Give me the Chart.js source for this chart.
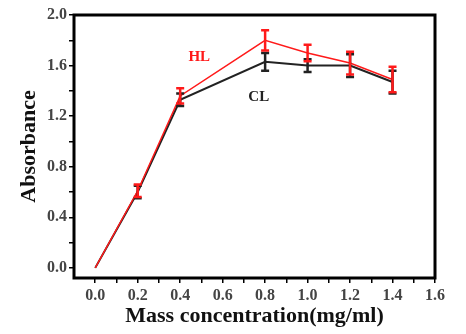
<!DOCTYPE html>
<html>
<head>
<meta charset="utf-8">
<script src="https://cdn.jsdelivr.net/npm/chart.js@4.4.1/dist/chart.umd.min.js"></script>
<style>
  html, body { margin: 0; padding: 0; background: #fff; }
  #wrap { width: 466px; height: 334px; position: relative; }
</style>
</head>
<body>
<div id="wrap"><canvas id="chart"></canvas></div>
<script>
// Data
const concentration = [0, 0.2, 0.4, 0.8, 1.0, 1.2, 1.4];
const clValues = [0, 0.60, 1.33, 1.63, 1.60, 1.60, 1.47];
const clErrors = [0, 0.05, 0.05, 0.07, 0.05, 0.09, 0.09];
const hlValues = [0, 0.61, 1.36, 1.80, 1.70, 1.62, 1.49];
const hlErrors = [0, 0.05, 0.06, 0.08, 0.065, 0.09, 0.10];

// Tick positions (labels only on every second one)
const xTicks = [0, 0.1, 0.2, 0.3, 0.4, 0.5, 0.6, 0.7, 0.8, 0.9, 1.0, 1.1, 1.2, 1.3, 1.4, 1.5, 1.6];
const yTicks = [0, 0.2, 0.4, 0.6, 0.8, 1.0, 1.2, 1.4, 1.6, 1.8, 2.0];

// Series labels placed in data units
const seriesLabels = [
  { text: 'HL', x: 0.49, y: 1.67, color: '#ff1a1a' },
  { text: 'CL', x: 0.77, y: 1.35, color: '#222' }
];

const serif = "'Liberation Serif', 'Times New Roman', serif";

const toPoints = (xs, ys) => xs.map((x, i) => ({ x: x, y: ys[i] }));

// every n-th step gets a label
const isMultiple = (v, step) => Math.abs(v / step - Math.round(v / step)) < 1e-6;

// Error bars, series labels and frame
const extras = {
  id: 'extras',
  afterDatasetsDraw(chart) {
    const ctx = chart.ctx;
    const xs = chart.scales.x, ys = chart.scales.y;
    // draw CL bars first, HL on top
    [1, 0].forEach(di => {
      const ds = chart.data.datasets[di];
      ctx.save();
      ctx.strokeStyle = ds.borderColor;
      ctx.lineWidth = 2.5;
      ds.data.forEach((p, i) => {
        const err = ds.errors[i];
        if (!err) return;
        const px = xs.getPixelForValue(p.x);
        const top = ys.getPixelForValue(p.y + err);
        const bot = ys.getPixelForValue(p.y - err);
        ctx.beginPath();
        ctx.moveTo(px, top); ctx.lineTo(px, bot);
        ctx.moveTo(px - 4, top); ctx.lineTo(px + 4, top);
        ctx.moveTo(px - 4, bot); ctx.lineTo(px + 4, bot);
        ctx.stroke();
      });
      ctx.restore();
    });

    ctx.save();
    ctx.font = 'bold 15px ' + serif;
    ctx.textAlign = 'center';
    ctx.textBaseline = 'middle';
    seriesLabels.forEach(l => {
      ctx.fillStyle = l.color;
      ctx.fillText(l.text, xs.getPixelForValue(l.x), ys.getPixelForValue(l.y));
    });
    ctx.restore();

    const a = chart.chartArea;
    ctx.save();
    ctx.strokeStyle = '#000';
    ctx.lineWidth = 3;
    ctx.strokeRect(a.left, a.top, a.right - a.left, a.bottom - a.top);
    ctx.restore();
  }
};

new Chart(document.getElementById('chart'), {
  type: 'line',
  data: {
    datasets: [
      {
        label: 'HL',
        data: toPoints(concentration, hlValues),
        errors: hlErrors,
        borderColor: '#ff1a1a',
        borderWidth: 1.5,
        pointRadius: 0,
        tension: 0,
        order: 1
      },
      {
        label: 'CL',
        data: toPoints(concentration, clValues),
        errors: clErrors,
        borderColor: '#222',
        borderWidth: 2,
        pointRadius: 0,
        tension: 0,
        order: 2
      }
    ]
  },
  options: {
    responsive: true,
    maintainAspectRatio: false,
    animation: false,
    layout: { padding: { left: 0, top: 15, right: 31, bottom: 0 } },
    plugins: {
      legend: { display: false },
      tooltip: { enabled: false }
    },
    scales: {
      x: {
        type: 'linear',
        min: -0.1,
        max: 1.6,
        afterBuildTicks: (s) => { s.ticks = xTicks.map(v => ({ value: v })); },
        afterFit: (s) => { s.height = 56; },
        border: { display: false },
        grid: { drawOnChartArea: false, drawTicks: true, tickLength: 5, color: '#000', lineWidth: 1.5 },
        ticks: {
          autoSkip: false,
          maxRotation: 0,
          padding: 3,
          color: '#444',
          font: { family: serif, size: 16, weight: 'bold' },
          callback: (v) => isMultiple(v, 0.2) ? v.toFixed(1) : ''
        },
        title: {
          display: true,
          text: 'Mass concentration(mg/ml)',
          color: '#111',
          padding: { top: 0 },
          font: { family: serif, size: 22, weight: 'bold' }
        }
      },
      y: {
        min: -0.08,
        max: 2.0,
        afterBuildTicks: (s) => { s.ticks = yTicks.map(v => ({ value: v })); },
        afterFit: (s) => { s.width = 74; },
        border: { display: false },
        grid: { drawOnChartArea: false, drawTicks: true, tickLength: 5, color: '#000', lineWidth: 1.5 },
        ticks: {
          autoSkip: false,
          padding: 2,
          color: '#444',
          font: { family: serif, size: 16, weight: 'bold' },
          callback: (v) => isMultiple(v, 0.4) ? v.toFixed(1) : ''
        },
        title: {
          display: true,
          text: 'Absorbance',
          color: '#111',
          padding: { top: 16, bottom: 0 },
          font: { family: serif, size: 22, weight: 'bold' }
        }
      }
    }
  },
  plugins: [extras]
});
</script>
</body>
</html>
